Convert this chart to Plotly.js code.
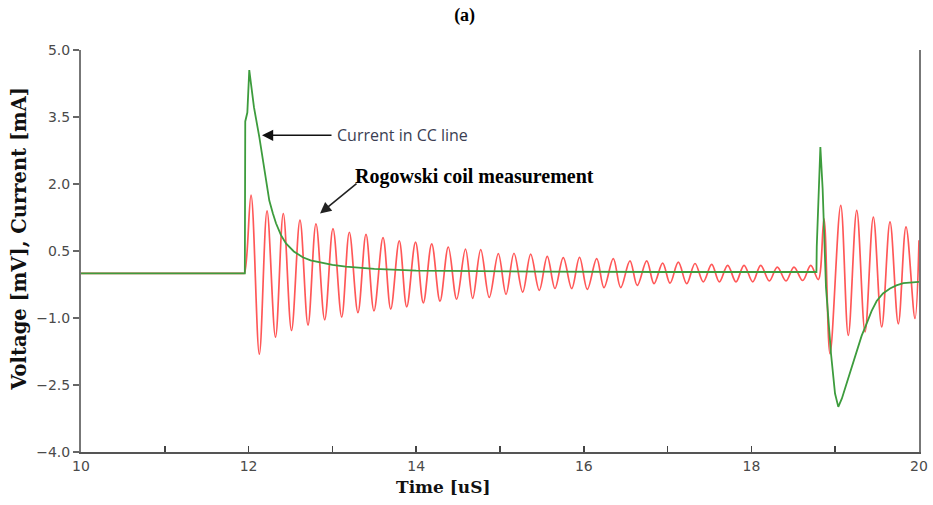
<!DOCTYPE html>
<html>
<head>
<meta charset="utf-8">
<script src="https://cdn.plot.ly/plotly-3.0.1.min.js"></script>
<style>html,body{margin:0;padding:0;background:#fff;}#chart{width:933px;height:505px;}</style>
</head>
<body>
<div id="chart"></div>
<script>
// ---- Rogowski coil measurement (red): read extrema of the oscillation ----
const redLeadTime  = [10, 11.93, 11.949];
const redLeadValue = [0, 0, 0];
const redPeakTime  = [12.029, 12.220, 12.414, 12.613, 12.804, 13.007, 13.202, 13.401, 13.604, 13.798, 13.992, 14.185, 14.383, 14.588, 14.770, 14.980, 15.167, 15.366, 15.564, 15.755, 15.949, 16.154, 16.352, 16.551, 16.751, 16.941, 17.128, 17.327, 17.526, 17.717, 17.912, 18.111, 18.309, 18.508, 18.708];
const redPeakValue = [1.75, 1.40, 1.34, 1.19, 1.11, 1.00, 0.92, 0.87, 0.80, 0.73, 0.70, 0.66, 0.59, 0.54, 0.53, 0.44, 0.45, 0.43, 0.38, 0.35, 0.36, 0.33, 0.33, 0.28, 0.28, 0.23, 0.25, 0.22, 0.20, 0.18, 0.18, 0.18, 0.14, 0.14, 0.18];
const redTroughTime  = [12.128, 12.321, 12.512, 12.709, 12.908, 13.111, 13.305, 13.496, 13.696, 13.887, 14.085, 14.284, 14.483, 14.674, 14.872, 15.072, 15.271, 15.469, 15.656, 15.856, 16.042, 16.241, 16.440, 16.638, 16.838, 17.029, 17.228, 17.426, 17.617, 17.816, 18.016, 18.214, 18.413, 18.612, 18.798];
const redTroughValue = [-1.81, -1.43, -1.28, -1.16, -1.04, -0.98, -0.88, -0.84, -0.80, -0.75, -0.66, -0.62, -0.58, -0.56, -0.54, -0.47, -0.42, -0.38, -0.34, -0.34, -0.36, -0.32, -0.32, -0.27, -0.23, -0.22, -0.23, -0.19, -0.19, -0.19, -0.19, -0.17, -0.17, -0.16, -0.14];
const redBurstTime  = [18.866, 18.938, 19.066, 19.156, 19.257, 19.356, 19.455, 19.555, 19.654, 19.753, 19.845, 19.952, 20.0];
const redBurstValue = [1.22, -1.80, 1.52, -1.39, 1.41, -1.31, 1.26, -1.20, 1.15, -1.13, 1.04, -1.01, 0.74];

// ---- Current in CC line (green) ----
const greenTime  = [10, 11.955, 11.96, 11.985, 12.008, 12.03, 12.064, 12.128, 12.187, 12.247, 12.290, 12.327, 12.385, 12.446, 12.54, 12.646, 12.74, 12.84, 13.0, 13.16, 13.5, 14.0, 14.5, 15.5, 17.0, 18.5, 18.776, 18.78, 18.80, 18.823, 18.85, 18.89, 18.95, 18.998, 19.037, 19.08, 19.137, 19.20, 19.257, 19.315, 19.376, 19.435, 19.495, 19.57, 19.654, 19.73, 19.813, 19.90, 20.0];
const greenValue = [0, 0, 3.4, 3.6, 4.55, 4.2, 3.72, 3.05, 2.30, 1.63, 1.34, 1.12, 0.86, 0.67, 0.49, 0.36, 0.29, 0.25, 0.19, 0.15, 0.10, 0.06, 0.05, 0.04, 0.03, 0.03, 0.03, 0.6, 1.9, 2.83, 1.9, -0.31, -1.80, -2.69, -2.99, -2.80, -2.46, -2.08, -1.72, -1.40, -1.12, -0.84, -0.62, -0.45, -0.34, -0.27, -0.22, -0.20, -0.19];

// ---- axis ticks / texts ----
const yTickVals = [-4.0, -2.5, -1.0, 0.5, 2.0, 3.5, 5.0];
const xTickVals = [10, 12, 14, 16, 18, 20];
const titleText = '(a)';
const xTitle = 'Time [uS]';
const yTitle = 'Voltage [mV], Current [mA]';
const labelCurrent = 'Current in CC line';
const labelRogowski = 'Rogowski coil measurement';

// interleave read extrema for the red trace
const redX = [...redLeadTime], redY = [...redLeadValue];
for (let i = 0; i < redPeakTime.length; i++) {
  redX.push(redPeakTime[i]); redY.push(redPeakValue[i]);
  redX.push(redTroughTime[i]); redY.push(redTroughValue[i]);
}
redX.push(...redBurstTime); redY.push(...redBurstValue);

const traces = [
  {x: redX, y: redY, type: 'scatter', mode: 'lines', name: labelRogowski,
   line: {color: 'rgba(255,45,45,0.8)', width: 1.7, shape: 'spline', smoothing: 1}},
  {x: greenTime, y: greenValue, type: 'scatter', mode: 'lines', name: labelCurrent,
   line: {color: '#3d9c3d', width: 1.8}}
];

const tickFont = {family: 'DejaVu Sans', size: 14, color: '#4a4a4a'};
const layout = {
  width: 933, height: 505,
  margin: {l: 81, r: 14, t: 50, b: 53},
  paper_bgcolor: '#fff', plot_bgcolor: '#fff',
  showlegend: false,
  title: {text: '<b>' + titleText + '</b>', xref: 'container', x: 0.498, yref: 'container', y: 0.97, yanchor: 'middle',
          font: {family: 'Liberation Serif', size: 18, color: '#000'}},
  xaxis: {range: [10, 20], tickvals: xTickVals, ticks: 'inside', ticklen: 6, tickwidth: 1.5, tickcolor: '#444',
          minor: {dtick: 1, tick0: 10, ticks: 'inside', ticklen: 6, tickwidth: 1.5, tickcolor: '#444'},
          showline: true, linecolor: '#555', linewidth: 2, showgrid: false, zeroline: false,
          tickfont: tickFont},
  yaxis: {range: [-4, 5], tickvals: yTickVals, tickformat: '.1f', ticks: 'outside', ticklen: 6, tickwidth: 1.5, tickcolor: '#666',
          showline: true, linecolor: '#777', linewidth: 2, mirror: true, showgrid: false, zeroline: false,
          tickfont: tickFont},
  annotations: [
    {xref: 'paper', yref: 'paper', x: 0.432, y: -0.087, text: '<b>' + xTitle + '</b>', showarrow: false,
     xanchor: 'center', yanchor: 'middle', font: {family: 'DejaVu Serif', size: 17, color: '#111'}},
    {xref: 'paper', yref: 'paper', x: -0.073, y: 0.53, text: '<b>' + yTitle + '</b>', showarrow: false, textangle: -90,
     xanchor: 'center', yanchor: 'middle', font: {family: 'DejaVu Serif', size: 19.5, color: '#111'}},
    {x: 12.16, y: 3.09, xref: 'x', yref: 'y', text: '', showarrow: true, ax: 71, ay: 0,
     arrowhead: 2, arrowsize: 1.4, arrowwidth: 1.6, arrowcolor: '#111'},
    {x: 12.20, y: 3.09, xref: 'x', yref: 'y', text: labelCurrent, showarrow: false, xanchor: 'left', yanchor: 'middle',
     xshift: 70, font: {family: 'Open Sans', size: 16, color: '#3b3e52'}},
    {x: 12.852, y: 1.34, xref: 'x', yref: 'y', text: '', showarrow: true, ax: 38, ay: -31,
     arrowhead: 2, arrowsize: 1.4, arrowwidth: 1.6, arrowcolor: '#222'},
    {x: 13.25, y: 2.16, xref: 'x', yref: 'y', text: '<b>' + labelRogowski + '</b>', showarrow: false, xanchor: 'left', yanchor: 'middle',
     font: {family: 'Liberation Serif', size: 20, color: '#000'}}
  ]
};

Plotly.newPlot('chart', traces, layout, {staticPlot: true, displayModeBar: false});
</script>
</body>
</html>
